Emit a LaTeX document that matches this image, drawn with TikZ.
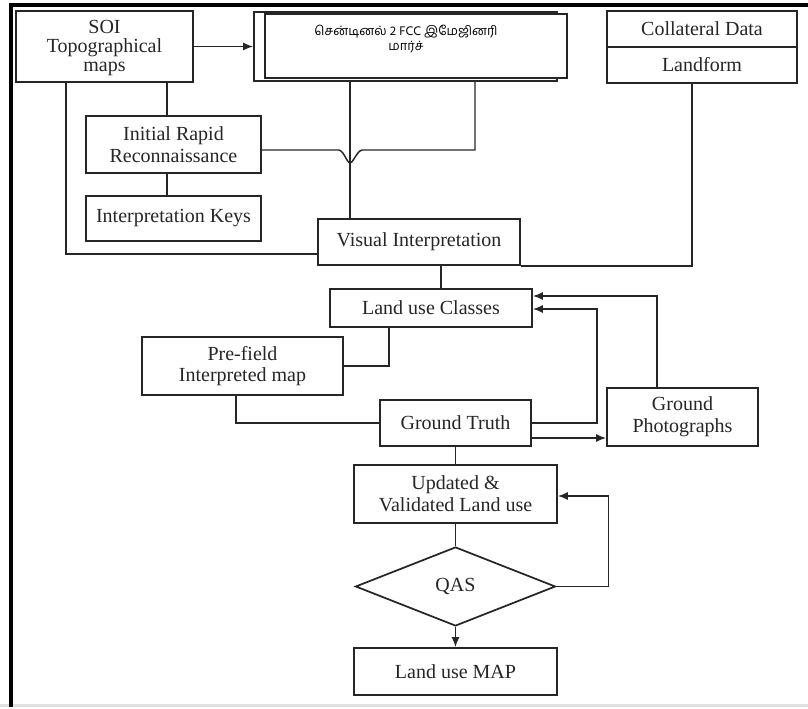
\documentclass[tikz,border=0pt]{standalone}
\usepackage{fontspec}
\setmainfont{Liberation Serif}
\newfontfamily\tamilfont[Script=Tamil]{Hind Madurai}
\usetikzlibrary{shapes.geometric,arrows.meta,calc}
\begin{document}
\begin{tikzpicture}[x=0.75pt,y=-0.75pt,
 box/.style={draw=black!85, line width=1.3pt, fill=white, inner sep=0pt, align=center, text=black!85, font=\fontsize{15}{16.2}\selectfont},
 conn/.style={draw=black!85, line width=1.1pt},
 arr/.style={conn, -{Latex[length=7.5pt,width=6pt]}}]
\useasboundingbox (0,0) rectangle (808,709);
% frame
\draw[line width=2.5pt, black!12] (0,705.5) -- (808,705.5);
\draw[line width=2.3pt, black] (11,707) -- (11,5) -- (808,5);

% nodes
\node[box, minimum width=132.75pt, minimum height=53.25pt] (soibox) at (104.5,46.5) {};
\node[align=center, text=black!85, inner sep=0pt, font=\fontsize{15}{14.6}\selectfont] (soi) at (104.5,48) {SOI\\Topographical\\maps};
\node[box, minimum width=227.25pt, minimum height=51.75pt] (tamilback) at (405.5,46.5) {};
\node[box, minimum width=226.5pt, minimum height=48pt] (tamilfront) at (416,46) {};
\node[font=\tamilfont\fontsize{9.6}{11.25}\selectfont, align=center, text=black, inner sep=0pt] (tamiltext) at (406,39) {சென்டினல் 2 FCC இமேஜினரி\\மார்ச்};
\node[box, minimum width=131.25pt, minimum height=42.75pt] (irr) at (173.5,144.5) {Initial Rapid\\Reconnaissance};
\node[box, minimum width=131.25pt, minimum height=33.75pt] (ik) at (173.5,218.5) {Interpretation Keys};
\node[box, minimum width=142.5pt, minimum height=27pt] (coll) at (702,29) {Collateral Data};
\node[box, minimum width=142.5pt, minimum height=27pt] (landform) at (702,65) {Landform};
\node[box, minimum width=151.5pt, minimum height=34.5pt] (vi) at (419,242) {Visual Interpretation};
\node[box, minimum width=151.5pt, minimum height=28.5pt] (luc) at (431,308) {Land use Classes};
\node[box, minimum width=150.75pt, minimum height=43.5pt] (prefield) at (242.5,366) {Pre-field\\Interpreted map};
\node[box, minimum width=113.25pt, minimum height=34.5pt] (gt) at (455.5,423) {Ground Truth};
\node[box, minimum width=113.25pt, minimum height=43.5pt] (gp) at (682.5,417) {Ground\\Photographs};
\node[box, minimum width=152.25pt, minimum height=43.5pt] (uv) at (455.5,494) {Updated \&\\Validated Land use};
\node[box, diamond, minimum width=150pt, minimum height=59.25pt] (qas) at (455.5,586.5) {QAS};
\node[box, minimum width=152.25pt, minimum height=35.25pt] (map) at (455.5,671.5) {Land use MAP};

% helper coordinates
\coordinate (k1) at ($(irr.north)+(-6.5,0)$);
\coordinate (k2) at ($(irr.south)+(-6.5,0)$);
\coordinate (s1) at ($(soibox.south west)+(51,0)$);
\coordinate (vl) at ($(vi.west)+(0,12)$);
\coordinate (tv) at ($(tamilback.south)+(-55.5,0)$);
\coordinate (ie) at ($(irr.east)+(0,5.5)$);
\coordinate (hop) at (tv |- ie);
\coordinate (tr) at ($(tamilback.south)+(69.5,0)$);
\coordinate (lf) at ($(landform.south)+(-10,0)$);
\coordinate (vb) at ($(vi.south)+(22,0)$);
\coordinate (lb) at ($(luc.south)+(-42,0)$);
\coordinate (pb) at ($(prefield.south)+(-6.5,0)$);
\coordinate (g12) at ($(gt.east)+(0,15)$);
\coordinate (gpt) at ($(gp.north)+(-25.5,0)$);
\coordinate (le1) at ($(luc.east)+(0,-12)$);
\coordinate (le2) at ($(luc.east)+(0,1)$);

% connectors
\draw[arr] (soibox.east) -- (tamilback.west);
\draw[conn] (soibox.south -| k1) -- (k1);
\draw[conn] (k2) -- (k2 |- ik.north);
\draw[conn] (s1) |- (vl);
\draw[conn] (tv) -- (tv |- vi.north);
\draw[conn] (ie) -- ($(hop)+(-11,0)$) .. controls ($(hop)+(-6,1)$) and ($(hop)+(-3,13)$) .. ($(hop)+(0,13)$) .. controls ($(hop)+(3,13)$) and ($(hop)+(7,1)$) .. ($(hop)+(12,0)$) -| (tr);
\draw[conn] (lf) |- (vi.south east);
\draw[conn] (vb) -- (vb |- luc.north);
\draw[conn] (lb) |- (prefield.east);
\draw[conn] (pb) |- (gt.west);
\draw[arr] (gt.east) -- ++(65,0) |- (le2);
\draw[arr] (g12) -- (g12 -| gp.west);
\draw[arr] (gpt) |- (le1);
\draw[conn] (gt.south) -- (uv.north);
\draw[conn] (uv.south) -- (qas.north);
\draw[arr] (qas.east) -- ++(52,0) |- ($(uv.east)+(0,2)$);
\draw[arr] (qas.south) -- (map.north);
\end{tikzpicture}
\end{document}
